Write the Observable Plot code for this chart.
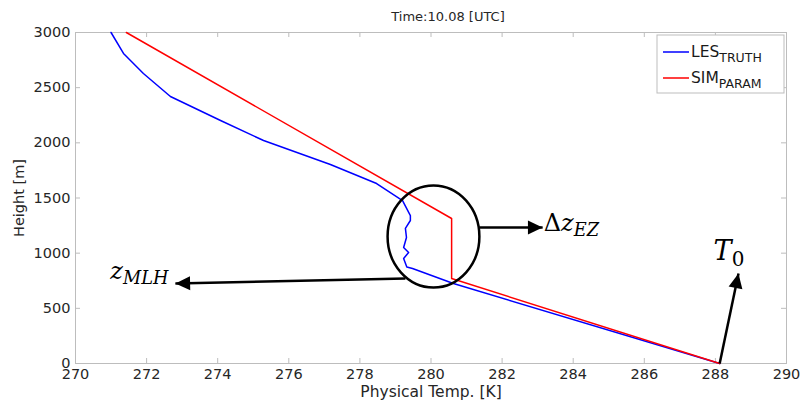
<!DOCTYPE html>
<html><head><meta charset="utf-8">
<script src="https://cdn.jsdelivr.net/npm/d3@7"></script>
<script src="https://cdn.jsdelivr.net/npm/@observablehq/plot@0.6"></script>
<style>body{margin:0;background:#fff}</style>
</head><body><div id="chart"></div>
<script>
// ---------- data ----------
const title = "Time:10.08 [UTC]";
const xLabel = "Physical Temp. [K]";
const yLabel = "Height [m]";
const xTicks = [270, 272, 274, 276, 278, 280, 282, 284, 286, 288, 290];
const yTicks = [0, 500, 1000, 1500, 2000, 2500, 3000];

const lesTemp   = [271.0, 271.35, 271.91, 272.67, 274.08, 275.29, 277.17, 278.47, 279.2, 279.42, 279.42, 279.28, 279.31, 279.23, 279.37, 279.23, 279.32, 279.48, 280.63, 288.12];
const lesHeight = [3000, 2810, 2628, 2420, 2202, 2021, 1804, 1631, 1477, 1341, 1296, 1224, 1142, 1051, 1006, 952, 875, 861, 725, 0];
const simTemp   = [271.43, 280.58, 280.58, 288.12];
const simHeight = [3000, 1314, 770, 0];

const seriesNames  = ["LES|TRUTH", "SIM|PARAM"];
const seriesColors = ["#0000ff", "#ff0000"];

// annotations (data units)
const ellipseT = [280.07], ellipseH = [1151];
const arrowFromT = [281.36, 279.28, 288.12], arrowFromH = [1233, 770, 0];
const arrowToT   = [283.14, 272.81, 288.65], arrowToH   = [1233, 725, 816];
const annoLabels = ["Δz|EZ", "z|MLH", "T|0"];
const annoT = [283.17, 270.98, 287.95];
const annoH = [1205, 770, 934];
const annoSize = [24, 24, 27];

// ---------- layout ----------
const W = 803, H = 403, ML = 75, MR = 17, MT = 32, MB = 40;
const innerW = W - ML - MR, innerH = H - MT - MB;
const xDomain = [270, 290], yDomain = [0, 3000];
const sx = innerW / (xDomain[1] - xDomain[0]);
const sy = innerH / (yDomain[1] - yDomain[0]);
const axisColor = "#bdbdbd";

const les = lesTemp.map((T, i) => ({T, h: lesHeight[i]}));
const sim = simTemp.map((T, i) => ({T, h: simHeight[i]}));
const ellipse = ellipseT.map((T, i) => ({T, h: ellipseH[i]}));
const arrows = arrowFromT.map((T, i) => {
  const dx = (arrowToT[i] - T) * sx, dy = -(arrowToH[i] - arrowFromH[i]) * sy;
  return {x1: T, y1: arrowFromH[i], x2: arrowToT[i], y2: arrowToH[i], angle: Math.atan2(dx, -dy) * 180 / Math.PI};
});
const annos = annoLabels.map((label, i) => ({label, T: annoT[i], h: annoH[i], size: annoSize[i]}));

const ellipseSymbol = {
  draw(ctx, size) {
    const r = Math.sqrt(size / Math.PI), rx = r * 0.9, ry = r, k = 0.5522847498;
    ctx.moveTo(rx, 0);
    ctx.bezierCurveTo(rx, ry * k, rx * k, ry, 0, ry);
    ctx.bezierCurveTo(-rx * k, ry, -rx, ry * k, -rx, 0);
    ctx.bezierCurveTo(-rx, -ry * k, -rx * k, -ry, 0, -ry);
    ctx.bezierCurveTo(rx * k, -ry, rx, -ry * k, rx, 0);
    ctx.closePath();
  }
};
const headSymbol = {
  draw(ctx, size) {
    const r = Math.sqrt(size / Math.PI), L = 2.1 * r, hw = r;
    ctx.moveTo(0, 0); ctx.lineTo(hw, L); ctx.lineTo(-hw, L); ctx.closePath();
  }
};

const annoMarks = annos.map(a => Plot.text([a], {
  x: "T", y: "h", text: "label", textAnchor: "start", lineAnchor: "bottom",
  fontSize: a.size, fontFamily: "DejaVu Serif", fill: "black"
}));

const plot = Plot.plot({
  width: W, height: H, marginLeft: ML, marginRight: MR, marginTop: MT, marginBottom: MB,
  style: {fontFamily: "DejaVu Sans", fontSize: "14.5px", color: "#262626", background: "#fff"},
  x: {domain: xDomain, ticks: xTicks, tickSize: 0, tickPadding: 5, tickFormat: d => String(d),
      label: xLabel, labelAnchor: "center", labelOffset: 33, labelArrow: "none"},
  y: {domain: yDomain, ticks: yTicks, tickSize: 0, tickPadding: 5, tickFormat: d => String(d),
      label: yLabel, labelAnchor: "center", labelOffset: 62, labelArrow: "none"},
  marks: [
    Plot.frame({stroke: axisColor}),
    Plot.tickX(xTicks, {x: d => d, stroke: axisColor, insetTop: innerH - 5}),
    Plot.tickX(xTicks, {x: d => d, stroke: axisColor, insetBottom: innerH - 5}),
    Plot.tickY(yTicks, {y: d => d, stroke: axisColor, insetRight: innerW - 5}),
    Plot.tickY(yTicks, {y: d => d, stroke: axisColor, insetLeft: innerW - 5}),
    Plot.line(les, {x: "T", y: "h", stroke: seriesColors[0], strokeWidth: 1.5}),
    Plot.line(sim, {x: "T", y: "h", stroke: seriesColors[1], strokeWidth: 1.5}),
    Plot.dot(ellipse, {x: "T", y: "h", r: 51, symbol: ellipseSymbol, stroke: "black", strokeWidth: 2.5, fill: "none"}),
    Plot.link(arrows, {x1: "x1", y1: "y1", x2: "x2", y2: "y2", stroke: "black", strokeWidth: 2.5}),
    Plot.dot(arrows, {x: "x2", y: "y2", r: 7, symbol: headSymbol, rotate: "angle", fill: "black", stroke: "none"}),
    ...annoMarks,
    Plot.text([title], {frameAnchor: "top", lineAnchor: "bottom", dy: -12, dx: 17, fontSize: 13, fill: "#262626"})
  ]
});

document.getElementById("chart").appendChild(plot);

// x-axis label a bit larger
d3.select(plot).selectAll("text").filter(function () { return this.textContent === xLabel; })
  .attr("font-size", 15.5);

// subscripts in annotation texts
d3.select(plot).selectAll("text").each(function () {
  const s = this.textContent;
  if (!s.includes("|")) return;
  const fs = parseFloat(getComputedStyle(this).fontSize) || 24;
  const [main, sub] = s.split("|");
  const el = d3.select(this);
  el.text(null);
  for (const ch of main) {
    el.append("tspan").text(ch).attr("font-style", /[Δ0-9]/.test(ch) ? "normal" : "italic");
  }
  el.append("tspan").text(sub)
    .attr("font-size", fs * 0.74)
    .attr("dy", fs * 0.22)
    .attr("font-style", /^[0-9]+$/.test(sub) ? "normal" : "italic");
});

// legend
const svg = d3.select(plot);
const lg = svg.append("g").attr("font-family", "DejaVu Sans").attr("text-anchor", "start");
const lx = ML + innerW - 129, ly = MT + 3;
lg.append("rect").attr("x", lx).attr("y", ly).attr("width", 127).attr("height", 58)
  .attr("fill", "white").attr("stroke", axisColor);
seriesNames.forEach((name, i) => {
  const cy = ly + 17 + 26 * i;
  lg.append("line").attr("x1", lx + 6).attr("x2", lx + 32).attr("y1", cy).attr("y2", cy)
    .attr("stroke", seriesColors[i]).attr("stroke-width", 1.5);
  const [main, sub] = name.split("|");
  const t = lg.append("text").attr("x", lx + 34).attr("y", cy + 5).attr("fill", "#1a1a1a").attr("font-size", 15.5);
  t.append("tspan").text(main);
  t.append("tspan").text(sub).attr("font-size", 12.5).attr("dy", 5);
});
</script>
</body></html>
